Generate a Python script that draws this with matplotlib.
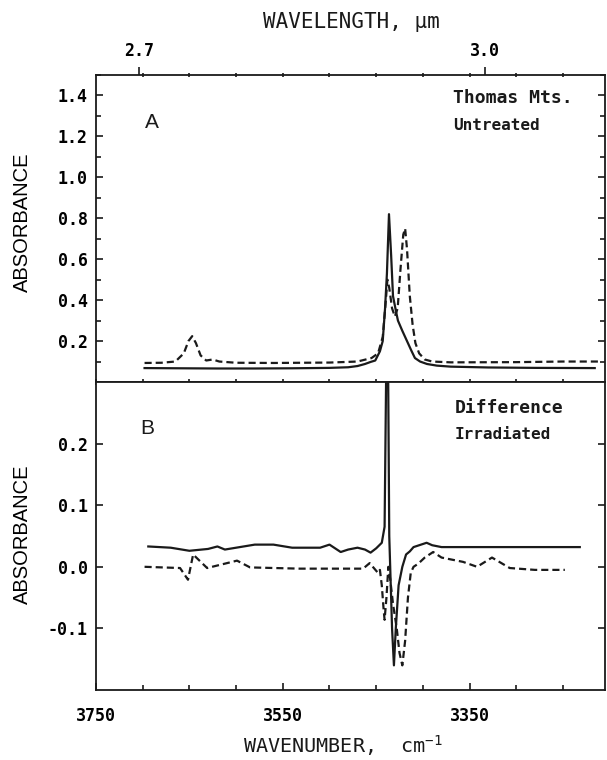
import numpy as np
import matplotlib
matplotlib.use("Agg")
import matplotlib.pyplot as plt
from matplotlib.ticker import MultipleLocator, FixedLocator
from matplotlib.font_manager import FontProperties

plt.rcParams['axes.unicode_minus'] = False

# ---------------- data ----------------
# Panel A: untreated spectra
a_solid_wn = [3698, 3660, 3620, 3580, 3540, 3500, 3480, 3470, 3462, 3456, 3451, 3446,
              3443, 3440.5, 3438.5, 3436.3, 3434, 3432, 3429, 3426.7, 3422, 3417, 3412,
              3408.5, 3403, 3395.6, 3385, 3370, 3330, 3280, 3216]
a_solid_ab = [0.068, 0.067, 0.066, 0.066, 0.067, 0.069, 0.072, 0.078, 0.088, 0.098, 0.105, 0.15,
              0.20, 0.36, 0.53, 0.82, 0.62, 0.42, 0.35, 0.30, 0.25, 0.20, 0.15,
              0.117, 0.10, 0.088, 0.080, 0.075, 0.071, 0.069, 0.068]

a_dash_wn = [3698, 3680, 3665, 3656, 3651, 3647, 3643, 3638, 3632, 3625, 3618, 3600,
             3560, 3500, 3470, 3455, 3448, 3443, 3440, 3438, 3436, 3433, 3430, 3427,
             3424, 3421, 3419, 3417, 3414, 3411, 3408, 3404, 3398, 3390, 3370, 3300,
             3250, 3210]
a_dash_ab = [0.093, 0.094, 0.10, 0.14, 0.20, 0.224, 0.19, 0.13, 0.105, 0.11, 0.10, 0.094,
             0.093, 0.095, 0.10, 0.117, 0.14, 0.22, 0.38, 0.50, 0.46, 0.36, 0.32, 0.36,
             0.55, 0.72, 0.75, 0.65, 0.42, 0.28, 0.19, 0.14, 0.11, 0.10, 0.096, 0.097,
             0.10, 0.10]

# Panel B: difference spectra (irradiated)
b_solid_wn = [3694, 3670, 3650, 3630, 3620, 3612, 3600, 3580, 3560, 3540, 3510, 3500,
              3494, 3488, 3480, 3470, 3462, 3456, 3450, 3444, 3441, 3439, 3438.2, 3437.4,
              3436, 3433, 3431, 3429, 3426, 3422, 3418, 3414, 3410, 3404, 3396, 3390,
              3380, 3300, 3232]
b_solid_ab = [0.033, 0.031, 0.026, 0.029, 0.033, 0.028, 0.031, 0.036, 0.036, 0.031, 0.031, 0.036,
              0.030, 0.024, 0.028, 0.031, 0.028, 0.023, 0.030, 0.039, 0.065, 0.36, 0.40, 0.36,
              0.05, -0.10, -0.16, -0.10, -0.03, 0.00, 0.02, 0.025, 0.032, 0.035, 0.039, 0.035,
              0.032, 0.032, 0.032]

b_dash_wn = [3698, 3660, 3651.5, 3646, 3631, 3599, 3585, 3532, 3464, 3457, 3448, 3446,
             3444, 3442, 3441, 3439, 3437, 3435, 3432, 3428, 3425, 3422, 3419, 3416,
             3413, 3410, 3405, 3398, 3389, 3380, 3357, 3342, 3326, 3307, 3280, 3248]
b_dash_ab = [0.0, -0.002, -0.021, 0.02, -0.002, 0.01, -0.001, -0.003, -0.003, 0.006, -0.01, -0.005,
             -0.03, -0.07, -0.086, -0.05, 0.0, -0.02, -0.06, -0.10, -0.14, -0.16, -0.12, -0.05,
             -0.01, 0.0, 0.005, 0.015, 0.024, 0.015, 0.008, 0.0, 0.015, -0.002, -0.005, -0.005]

bottom_ticks = [3750, 3550, 3350]
top_ticks_um = [2.7, 3.0]
ya_ticks = [0.2, 0.4, 0.6, 0.8, 1.0, 1.2, 1.4]
yb_ticks = [-0.1, 0.0, 0.1, 0.2]

# ---------------- figure ----------------
W, H = 607, 760
fig = plt.figure(figsize=(W / 100, H / 100), dpi=100)
L, R = 96 / W, 605 / W
yt, ym, yb = 1 - 75 / H, 1 - 382 / H, 1 - 690 / H
axA = fig.add_axes([L, ym, R - L, yt - ym])
axB = fig.add_axes([L, yb, R - L, ym - yb])

mono = 'DejaVu Sans Mono'
lw = 1.6
dash = (0, (3.2, 1.8))
col = '#1a1a1a'

axA.plot(a_solid_wn, a_solid_ab, color=col, lw=lw, solid_joinstyle='round')
axA.plot(a_dash_wn, a_dash_ab, color=col, lw=lw, linestyle=dash)
axB.plot(b_solid_wn, b_solid_ab, color=col, lw=lw, solid_joinstyle='round')
axB.plot(b_dash_wn, b_dash_ab, color=col, lw=lw, linestyle=dash)

xlim = (3750, 3205)
for ax in (axA, axB):
    ax.set_xlim(*xlim)
    for s in ax.spines.values():
        s.set_linewidth(1.3)
        s.set_color(col)
    ax.xaxis.set_minor_locator(MultipleLocator(50))
    ax.set_xticks(bottom_ticks)

axA.set_ylim(0.0, 1.5)
axA.set_yticks(ya_ticks)
axA.set_yticklabels([f"{v:.1f}" for v in ya_ticks])
axA.yaxis.set_minor_locator(MultipleLocator(0.1))

axB.set_ylim(-0.2, 0.3)
axB.set_yticks(yb_ticks)
axB.set_yticklabels([f"{v:.1f}" for v in yb_ticks])

tickfont = FontProperties(family=mono, weight='bold', size=12)
for ax in (axA, axB):
    ax.tick_params(axis='y', which='both', direction='in', left=True, right=True,
                   width=1.2, color=col, pad=6)
    ax.tick_params(axis='y', which='major', length=5)
    ax.tick_params(axis='y', which='minor', length=3.5)
    for t in ax.get_yticklabels():
        t.set_fontproperties(tickfont)

axA.tick_params(axis='x', which='both', direction='inout', bottom=True, top=False,
                labelbottom=False, width=1.2, color=col, length=5)
axB.tick_params(axis='x', which='both', direction='in', bottom=True, top=False,
                width=1.2, color=col, pad=12)
axB.tick_params(axis='x', which='major', length=5)
axB.tick_params(axis='x', which='minor', length=3.5)
axB.set_xticklabels([str(v) for v in bottom_ticks])
for t in axB.get_xticklabels():
    t.set_fontproperties(tickfont)

# top wavelength axis
axT = axA.twiny()
axT.set_xlim(*xlim)
axT.set_xticks([1e4 / u for u in top_ticks_um])
axT.set_xticklabels([f"{u:.1f}" for u in top_ticks_um])
axT.xaxis.set_minor_locator(FixedLocator(list(range(3700, 3205, -50))))
axT.tick_params(axis='x', which='major', direction='out', length=6, width=1.2, color=col, pad=5)
axT.tick_params(axis='x', which='minor', direction='inout', length=3, width=1.2, color=col)
for t in axT.get_xticklabels():
    t.set_fontproperties(tickfont)
for s in axT.spines.values():
    s.set_visible(False)

# axis labels
ylab = dict(family='Liberation Sans', size=14.5)
axA.set_ylabel('ABSORBANCE', **ylab)
axA.yaxis.set_label_coords(-0.125, 0.52)
axB.set_ylabel('ABSORBANCE', **ylab)
axB.yaxis.set_label_coords(-0.125, 0.506)

fig.text(0.5 * (225 + 460) / W, 1 - 746 / H, r'WAVENUMBER,  cm$^{\mathtt{-1}}$', family=mono,
         size=14.5, ha='center', va='center', color=col)
fig.text(351 / W, 1 - 22 / H, 'WAVELENGTH, µm', family=mono,
         size=15, ha='center', va='center', color=col)

# panel annotations
fig.text(152 / W, 1 - 122 / H, 'A', family='Liberation Sans', size=15, ha='center', va='center', color=col)
fig.text(147 / W, 1 - 428 / H, 'B', family='Liberation Sans', size=15, ha='center', va='center', color=col)
fig.text(453 / W, 1 - 98 / H, 'Thomas Mts.', family=mono, weight='bold', size=13, ha='left', va='center', color=col)
fig.text(453 / W, 1 - 126 / H, 'Untreated', family=mono, weight='bold', size=11.5, ha='left', va='center', color=col)
fig.text(455 / W, 1 - 408 / H, 'Difference', family=mono, weight='bold', size=13, ha='left', va='center', color=col)
fig.text(455 / W, 1 - 435 / H, 'Irradiated', family=mono, weight='bold', size=11.5, ha='left', va='center', color=col)

fig.savefig('out.png', dpi=100)
